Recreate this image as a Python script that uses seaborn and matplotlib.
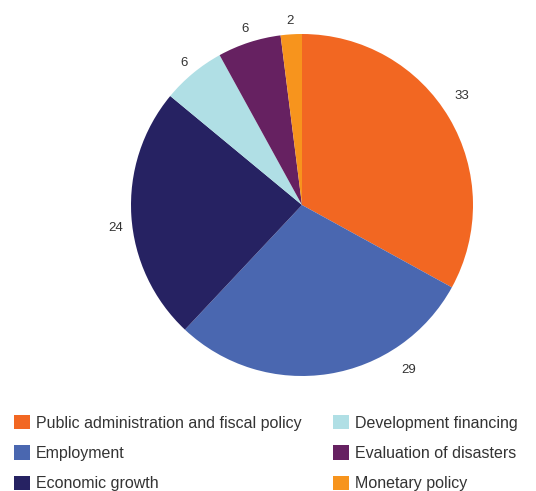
import matplotlib
matplotlib.use("Agg")
import matplotlib.pyplot as plt
import matplotlib.patches as mpatches
import numpy as np
import seaborn as sns

# Data
categories = ["Public administration and fiscal policy", "Employment", "Economic growth",
              "Development financing", "Evaluation of disasters", "Monetary policy"]
shares = [33, 29, 24, 6, 6, 2]
colors = ["#F26722", "#4A67B0", "#262262", "#B0DFE5", "#662161", "#F7941D"]

# where along each wedge (0 = start, 1 = end) and how far out the value label sits
label_frac = [0.47, 0.27, 0.46, 0.5, 0.5, 0.5]
label_dist = [1.13, 1.15, 1.10, 1.08, 1.08, 1.08]

sns.set_style("white")
plt.rcParams['font.family'] = ['Liberation Sans', 'DejaVu Sans']

W, H = 536, 491
fig = plt.figure(figsize=(W / 100, H / 100), dpi=100)

# pie centre (302, 205) px, radius 171 px
cx, cy, r = 302, 205, 171
ax = fig.add_axes([(cx - r) / W, 1 - (cy + r) / H, 2 * r / W, 2 * r / H])
wedges, _ = ax.pie(shares, colors=colors, startangle=90, counterclock=False,
                   wedgeprops=dict(edgecolor="none", linewidth=0))
for w, v, f, d in zip(wedges, shares, label_frac, label_dist):
    # clockwise wedges: theta2 is the starting edge
    ang = np.deg2rad(w.theta2 - f * (w.theta2 - w.theta1))
    ax.text(d * np.cos(ang), d * np.sin(ang), str(v), ha="center", va="center",
            fontsize=9.5, color="#333333", clip_on=False)
ax.set_xlim(-1, 1)
ax.set_ylim(-1, 1)
ax.set_aspect("equal")

handles = [mpatches.Patch(facecolor=c, edgecolor="none") for c in colors]
fig.legend(handles, categories, loc="upper left", bbox_to_anchor=(14 / W, 1 - 415 / H),
           ncol=2, frameon=False, fontsize=11.5, handlelength=1.0, handleheight=1.0,
           handletextpad=0.35, labelspacing=0.92, columnspacing=2.0,
           borderaxespad=0, borderpad=0, labelcolor="#333333")

fig.savefig("out.png", dpi=100)
